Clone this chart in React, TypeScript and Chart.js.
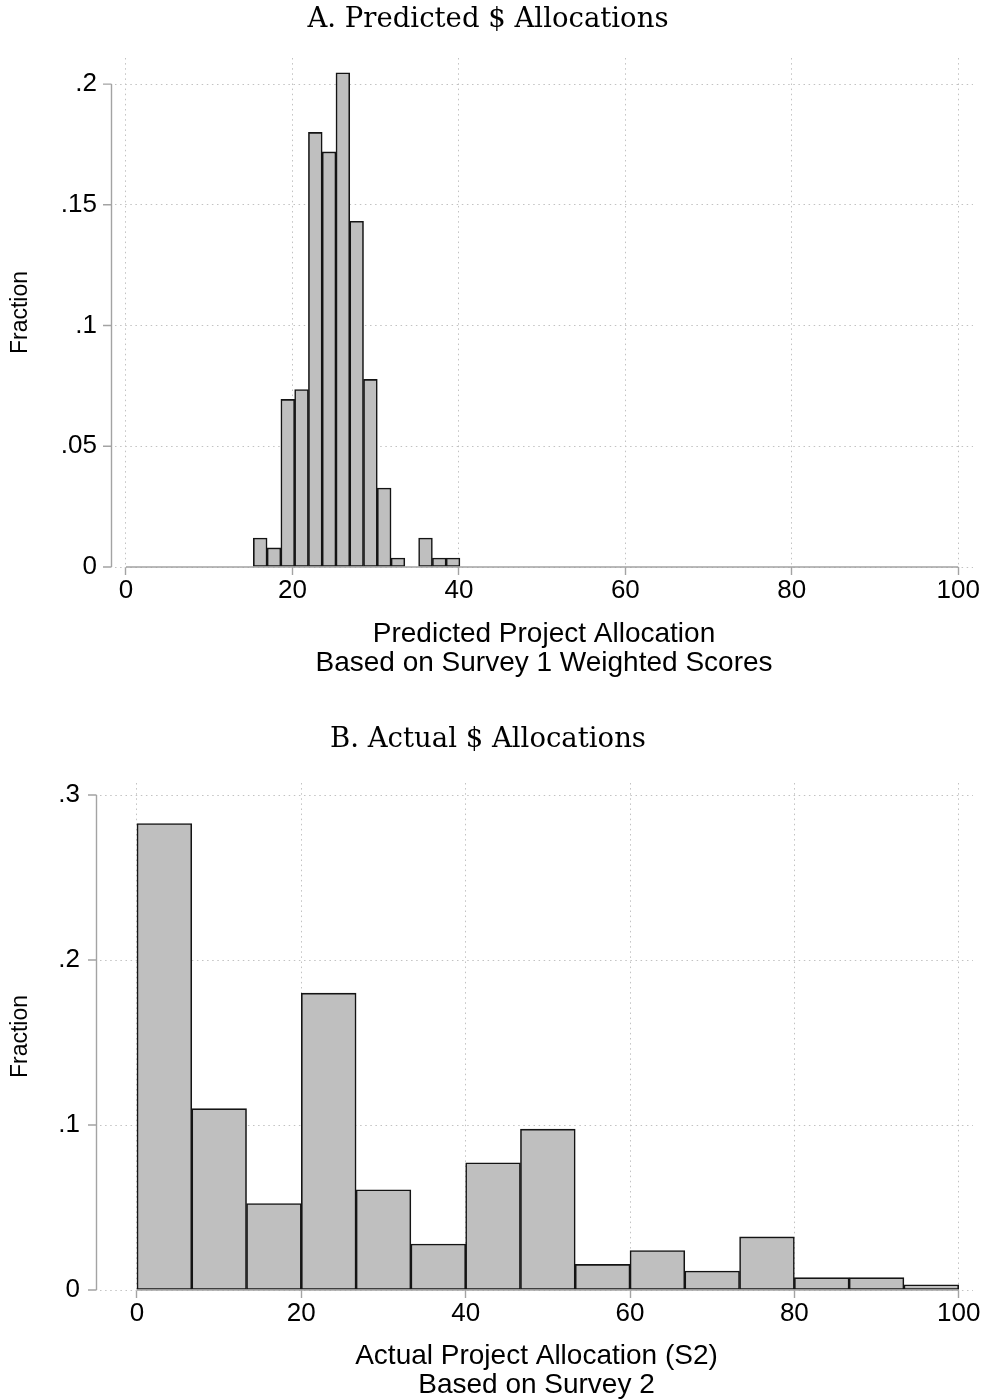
import React, { useEffect, useRef } from "react";
import { Chart, registerables } from "chart.js";

Chart.register(...registerables);
Chart.defaults.font.family = '"Liberation Sans", Arial, Helvetica, sans-serif';
Chart.defaults.color = "#000";

// Panel A: predicted project allocation (Survey 1 weighted scores)
const predBinStart = 15.3;
const predBinWidth = 1.655;
const predFractions = [
  0.012, 0.0079, 0.0694, 0.0735, 0.18, 0.1719, 0.2047, 0.1432, 0.0777, 0.0327,
  0.0037, 0, 0.012, 0.0037, 0.0037,
];
const predYTicks = [0, 0.05, 0.1, 0.15, 0.2];
const predYTickLabels = ["0", ".05", ".1", ".15", ".2"];

// Panel B: actual project allocation (Survey 2)
const actBinStart = 0;
const actBinWidth = 100 / 15;
const actFractions = [
  0.2827, 0.1099, 0.0524, 0.1799, 0.0607, 0.0279, 0.0771, 0.0975, 0.0155,
  0.0239, 0.0115, 0.0322, 0.0075, 0.0075, 0.0032,
];
const actYTicks = [0, 0.1, 0.2, 0.3];
const actYTickLabels = ["0", ".1", ".2", ".3"];

const xTicks = [0, 20, 40, 60, 80, 100];
const xTickLabels = ["0", "20", "40", "60", "80", "100"];

const BAR_FILL = "#bfbfbf";
const BAR_EDGE = "#141414";
const AXIS_GREY = "#a3a3a3";
const GRID_GREY = "#c2c2c2";

interface PanelSpec {
  title: string;
  xTitle: string[];
  binStart: number;
  binWidth: number;
  fractions: number[];
  yTicks: number[];
  yTickLabels: string[];
  yMax: number;
  xMin: number;
  xMax: number;
  canvasTop: number;
  canvasHeight: number;
  areaLeft: number;
  areaTop: number;
  areaBottom: number;
  tickLabelPad: number;
  titleBaseline: number;
  xTitlePadBottom: number;
}

const panels: PanelSpec[] = [
  {
    title: "A. Predicted $ Allocations",
    xTitle: ["Predicted Project Allocation", "Based on Survey 1 Weighted Scores"],
    binStart: predBinStart,
    binWidth: predBinWidth,
    fractions: predFractions,
    yTicks: predYTicks,
    yTickLabels: predYTickLabels,
    yMax: 0.2108,
    xMin: -1.32,
    xMax: 101.77,
    canvasTop: 0,
    canvasHeight: 700,
    areaLeft: 115,
    areaTop: 58,
    areaBottom: 567,
    tickLabelPad: 18,
    titleBaseline: 27,
    xTitlePadBottom: 22.5,
  },
  {
    title: "B. Actual $ Allocations",
    xTitle: ["Actual Project Allocation (S2)", "Based on Survey 2"],
    binStart: actBinStart,
    binWidth: actBinWidth,
    fractions: actFractions,
    yTicks: actYTicks,
    yTickLabels: actYTickLabels,
    yMax: 0.3073,
    xMin: -4.5,
    xMax: 101.74,
    canvasTop: 700,
    canvasHeight: 730,
    areaLeft: 100,
    areaTop: 83,
    areaBottom: 590,
    tickLabelPad: 20,
    titleBaseline: 47,
    xTitlePadBottom: 30.5,
  },
];

const CANVAS_W = 988;
const AREA_RIGHT = 973;

// Stata-style axes: detached y axis line with outward ticks, x axis line spanning the tick range, serif title
function makeAxesPlugin(spec: PanelSpec) {
  return {
    id: "stataAxes",
    afterDatasetsDraw(chart: any) {
      const { ctx, chartArea, scales } = chart;
      const x = scales.x;
      const y = scales.y;
      ctx.save();
      ctx.strokeStyle = AXIS_GREY;
      ctx.lineWidth = 1.4;
      ctx.setLineDash([]);
      ctx.beginPath();
      const ax = Math.round(chartArea.left - 4) + 0.5;
      const yTop = y.getPixelForValue(spec.yTicks[spec.yTicks.length - 1]);
      const yBot = y.getPixelForValue(spec.yTicks[0]);
      ctx.moveTo(ax, yTop);
      ctx.lineTo(ax, yBot);
      spec.yTicks.forEach((v) => {
        const py = y.getPixelForValue(v);
        ctx.moveTo(ax - 8.5, py);
        ctx.lineTo(ax, py);
      });
      const by = chartArea.bottom;
      ctx.moveTo(x.getPixelForValue(xTicks[0]), by);
      ctx.lineTo(x.getPixelForValue(xTicks[xTicks.length - 1]), by);
      ctx.stroke();

      ctx.fillStyle = "#000";
      ctx.font = '27.5px "DejaVu Serif", "Liberation Serif", serif';
      ctx.textAlign = "center";
      ctx.textBaseline = "alphabetic";
      ctx.fillText(spec.title, chart.width / 2 - 6, spec.titleBaseline);
      ctx.restore();
    },
  };
}

function Panel({ spec }: { spec: PanelSpec }) {
  const ref = useRef<HTMLCanvasElement | null>(null);

  useEffect(() => {
    if (!ref.current) return;
    const points = spec.fractions.map((f, i) => ({
      x: spec.binStart + (i + 0.5) * spec.binWidth,
      y: f,
    }));
    const chart = new Chart(ref.current, {
      type: "bar",
      data: {
        datasets: [
          {
            data: points as any,
            backgroundColor: BAR_FILL,
            borderColor: BAR_EDGE,
            borderWidth: 1.6,
            borderSkipped: false,
            barPercentage: 1,
            categoryPercentage: 1,
          },
        ],
      },
      options: {
        responsive: false,
        animation: false,
        devicePixelRatio: 1,
        layout: {
          padding: { top: spec.areaTop, right: CANVAS_W - AREA_RIGHT, left: 0, bottom: 0 },
        },
        plugins: {
          legend: { display: false },
          tooltip: { enabled: false },
          title: { display: false },
        },
        scales: {
          x: {
            type: "linear",
            offset: false,
            min: spec.xMin,
            max: spec.xMax,
            afterBuildTicks: (scale: any) => {
              scale.ticks = xTicks.map((v) => ({ value: v }));
            },
            afterFit: (scale: any) => {
              scale.height = spec.canvasHeight - spec.areaBottom;
            },
            ticks: {
              autoSkip: false,
              maxRotation: 0,
              padding: 0,
              color: "#000",
              font: { size: 26 },
              callback: (_v: any, i: number) => xTickLabels[i],
            },
            grid: {
              offset: false,
              color: GRID_GREY,
              lineWidth: 1,
              drawTicks: true,
              tickLength: 8,
              tickColor: AXIS_GREY,
              tickWidth: 1.4,
              tickBorderDash: [],
            },
            border: { display: false, dash: [1.5, 3.6] },
            title: {
              display: true,
              text: spec.xTitle,
              color: "#000",
              font: { size: 28, lineHeight: 29 / 28 },
              padding: { top: 0, bottom: spec.xTitlePadBottom },
            },
          },
          y: {
            type: "linear",
            min: 0,
            max: spec.yMax,
            afterBuildTicks: (scale: any) => {
              scale.ticks = spec.yTicks.map((v) => ({ value: v }));
            },
            afterFit: (scale: any) => {
              scale.width = spec.areaLeft;
            },
            ticks: {
              padding: spec.tickLabelPad,
              color: "#000",
              font: { size: 26 },
              callback: (_v: any, i: number) => spec.yTickLabels[i],
            },
            grid: {
              color: GRID_GREY,
              lineWidth: 1,
              drawTicks: false,
            },
            border: { display: false, dash: [1.5, 3.6] },
            title: {
              display: true,
              text: "Fraction",
              color: "#000",
              font: { size: 23 },
              padding: { top: 7, bottom: 0 },
            },
          },
        },
      },
      plugins: [makeAxesPlugin(spec)],
    } as any);
    return () => chart.destroy();
  }, [spec]);

  return (
    <canvas
      ref={ref}
      width={CANVAS_W}
      height={spec.canvasHeight}
      style={{
        position: "absolute",
        left: 0,
        top: spec.canvasTop,
        width: CANVAS_W,
        height: spec.canvasHeight,
      }}
    />
  );
}

export default function App() {
  return (
    <div
      style={{
        position: "fixed",
        left: 0,
        top: 0,
        width: CANVAS_W,
        height: 1399,
        overflow: "hidden",
        background: "#fff",
      }}
    >
      {panels.map((p) => (
        <Panel key={p.title} spec={p} />
      ))}
    </div>
  );
}
